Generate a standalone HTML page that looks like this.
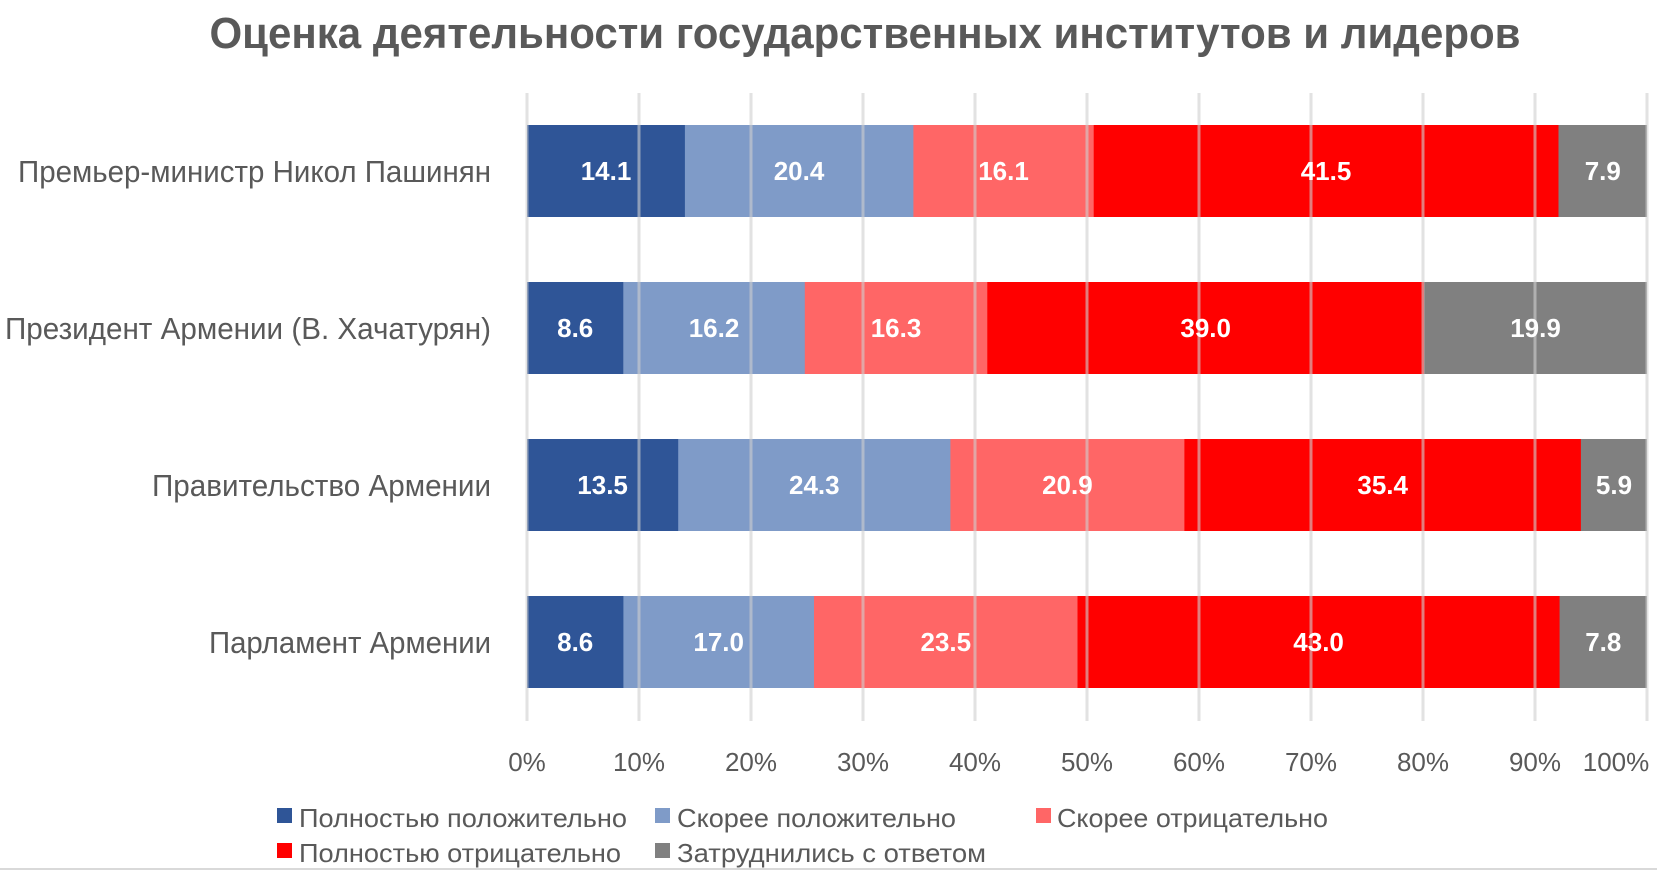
<!DOCTYPE html>
<html><head><meta charset="utf-8"><style>
html,body{margin:0;padding:0;background:#fff;}
svg{display:block;font-family:"Liberation Sans",sans-serif;}
</style></head><body>
<svg width="1657" height="871" viewBox="0 0 1657 871" xmlns="http://www.w3.org/2000/svg">
<rect width="1657" height="871" fill="#fff"/>
<text x="865" y="48" text-anchor="middle" font-size="44" font-weight="bold" fill="#595959" textLength="1311" lengthAdjust="spacingAndGlyphs">Оценка деятельности государственных институтов и лидеров</text>
<g>
<rect x="527" y="125" width="158.4" height="92" fill="#2F5597"/><rect x="684.9" y="125" width="229" height="92" fill="#7F9BC8"/><rect x="913.4" y="125" width="180.8" height="92" fill="#FF6666"/><rect x="1093.7" y="125" width="465.3" height="92" fill="#FF0000"/><rect x="1558.5" y="125" width="88.5" height="92" fill="#808080"/>
<rect x="527" y="282" width="96.8" height="92" fill="#2F5597"/><rect x="623.3" y="282" width="182" height="92" fill="#7F9BC8"/><rect x="804.8" y="282" width="183" height="92" fill="#FF6666"/><rect x="987.3" y="282" width="437.3" height="92" fill="#FF0000"/><rect x="1424.1" y="282" width="222.9" height="92" fill="#808080"/>
<rect x="527" y="439" width="151.7" height="92" fill="#2F5597"/><rect x="678.2" y="439" width="272.7" height="92" fill="#7F9BC8"/><rect x="950.4" y="439" width="234.5" height="92" fill="#FF6666"/><rect x="1184.4" y="439" width="397" height="92" fill="#FF0000"/><rect x="1580.9" y="439" width="66.1" height="92" fill="#808080"/>
<rect x="527" y="596" width="96.9" height="92" fill="#2F5597"/><rect x="623.4" y="596" width="191.1" height="92" fill="#7F9BC8"/><rect x="814" y="596" width="264" height="92" fill="#FF6666"/><rect x="1077.5" y="596" width="482.6" height="92" fill="#FF0000"/><rect x="1559.6" y="596" width="87.4" height="92" fill="#808080"/>
</g>
<g stroke="#d0d0d0" stroke-width="3" opacity="0.6">
<line x1="527" y1="93" x2="527" y2="721"/><line x1="639" y1="93" x2="639" y2="721"/><line x1="751" y1="93" x2="751" y2="721"/><line x1="863" y1="93" x2="863" y2="721"/><line x1="975" y1="93" x2="975" y2="721"/><line x1="1087" y1="93" x2="1087" y2="721"/><line x1="1199" y1="93" x2="1199" y2="721"/><line x1="1311" y1="93" x2="1311" y2="721"/><line x1="1423" y1="93" x2="1423" y2="721"/><line x1="1535" y1="93" x2="1535" y2="721"/><line x1="1647" y1="93" x2="1647" y2="721"/>
</g>
<g font-size="26" font-weight="bold" fill="#fff" text-anchor="middle">
<text x="606" y="180">14.1</text><text x="799" y="180">20.4</text><text x="1003.5" y="180">16.1</text><text x="1326" y="180">41.5</text><text x="1602.8" y="180">7.9</text>
<text x="575.2" y="337">8.6</text><text x="714" y="337">16.2</text><text x="896" y="337">16.3</text><text x="1205.7" y="337">39.0</text><text x="1535.5" y="337">19.9</text>
<text x="602.6" y="494">13.5</text><text x="814.3" y="494">24.3</text><text x="1067.4" y="494">20.9</text><text x="1382.7" y="494">35.4</text><text x="1614" y="494">5.9</text>
<text x="575.2" y="651">8.6</text><text x="718.7" y="651">17.0</text><text x="945.8" y="651">23.5</text><text x="1318.6" y="651">43.0</text><text x="1603.3" y="651">7.8</text>
</g>
<g font-size="26" fill="#595959" text-anchor="middle">
<text x="527" y="771">0%</text><text x="639" y="771">10%</text><text x="751" y="771">20%</text><text x="863" y="771">30%</text><text x="975" y="771">40%</text><text x="1087" y="771">50%</text><text x="1199" y="771">60%</text><text x="1311" y="771">70%</text><text x="1423" y="771">80%</text><text x="1535" y="771">90%</text><text x="1616" y="771">100%</text>
</g>
<g font-size="31" fill="#595959" text-anchor="end">
<text x="491" y="182" textLength="473" lengthAdjust="spacingAndGlyphs">Премьер-министр Никол Пашинян</text>
<text x="491" y="339" textLength="486" lengthAdjust="spacingAndGlyphs">Президент Армении (В. Хачатурян)</text>
<text x="491" y="496" textLength="339" lengthAdjust="spacingAndGlyphs">Правительство Армении</text>
<text x="491" y="653" textLength="282" lengthAdjust="spacingAndGlyphs">Парламент Армении</text>
</g>
<g font-size="26" fill="#595959">
<rect x="277" y="808" width="15" height="15" fill="#2F5597"/><text x="299" y="827" textLength="328" lengthAdjust="spacingAndGlyphs">Полностью положительно</text>
<rect x="655" y="808" width="15" height="15" fill="#7F9BC8"/><text x="677" y="827" textLength="279" lengthAdjust="spacingAndGlyphs">Скорее положительно</text>
<rect x="1036" y="808" width="15" height="15" fill="#FF6666"/><text x="1057" y="827" textLength="271" lengthAdjust="spacingAndGlyphs">Скорее отрицательно</text>
<rect x="277" y="843" width="15" height="15" fill="#FF0000"/><text x="299" y="862" textLength="322" lengthAdjust="spacingAndGlyphs">Полностью отрицательно</text>
<rect x="655" y="843" width="15" height="15" fill="#808080"/><text x="677" y="862" textLength="309" lengthAdjust="spacingAndGlyphs">Затруднились с ответом</text>
</g>
<line x1="0" y1="869" x2="1657" y2="869" stroke="#d9d9d9" stroke-width="2"/>
</svg>
</body></html>
